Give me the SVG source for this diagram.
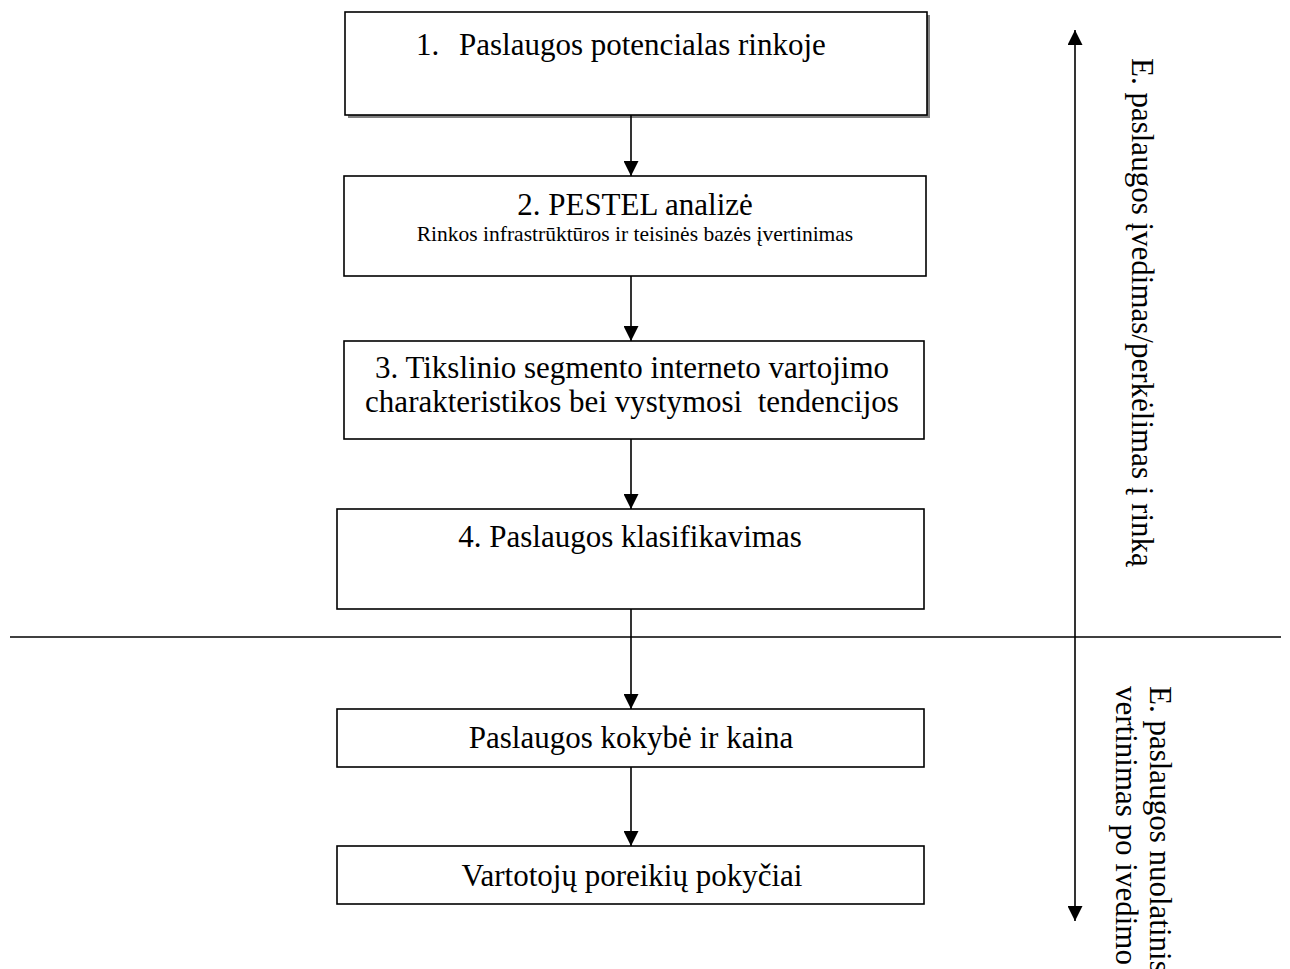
<svg xmlns="http://www.w3.org/2000/svg" width="1290" height="969" viewBox="0 0 1290 969">
<defs>
<style>
.box{fill:#fff;stroke:#000;stroke-width:1.6}
.t{font-family:"Liberation Serif","Times New Roman",serif;font-size:31px;fill:#000}
.s{font-family:"Liberation Serif","Times New Roman",serif;font-size:21.5px;fill:#000}
.r{font-family:"Liberation Serif","Times New Roman",serif;font-size:31px;fill:#000}
.c{stroke:#000;stroke-width:1.6;fill:none}
</style>
<marker id="ah" viewBox="0 0 10 10" refX="10" refY="5" markerWidth="15" markerHeight="15" markerUnits="userSpaceOnUse" orient="auto-start-reverse">
<path d="M0,0 L10,5 L0,10 Z" fill="#000"/>
</marker>
</defs>
<rect width="1290" height="969" fill="#fff"/>
<g id="node1">
<rect x="348" y="15" width="582" height="103" fill="#808080"/>
<rect class="box" x="345" y="12" width="582" height="103"/>
<text class="t" y="55"><tspan x="416">1.</tspan><tspan x="459">Paslaugos potencialas rinkoje</tspan></text>
</g>
<g id="node2">
<rect class="box" x="344" y="176" width="582" height="100"/>
<text class="t" x="635" y="215" text-anchor="middle">2. PESTEL analizė</text>
<text class="s" x="635" y="241" text-anchor="middle">Rinkos infrastrūktūros ir teisinės bazės įvertinimas</text>
</g>
<g id="node3">
<rect class="box" x="344" y="341" width="580" height="98"/>
<text class="t" x="632" y="378" text-anchor="middle">3. Tikslinio segmento interneto vartojimo</text>
<text class="t" x="632" y="412" text-anchor="middle" xml:space="preserve">charakteristikos bei vystymosi  tendencijos</text>
</g>
<g id="node4">
<rect class="box" x="337" y="509" width="587" height="100"/>
<text class="t" x="630" y="547" text-anchor="middle">4. Paslaugos klasifikavimas</text>
</g>
<g id="node5">
<rect class="box" x="337" y="709" width="587" height="58"/>
<text class="t" x="631" y="748" text-anchor="middle">Paslaugos kokybė ir kaina</text>
</g>
<g id="node6">
<rect class="box" x="337" y="846" width="587" height="58"/>
<text class="t" x="632" y="886" text-anchor="middle">Vartotojų poreikių pokyčiai</text>
</g>
<g id="connectors">
<line class="c" x1="631" y1="115" x2="631" y2="176" marker-end="url(#ah)"/>
<line class="c" x1="631" y1="276" x2="631" y2="341" marker-end="url(#ah)"/>
<line class="c" x1="631" y1="439" x2="631" y2="509" marker-end="url(#ah)"/>
<line class="c" x1="631" y1="609" x2="631" y2="709" marker-end="url(#ah)"/>
<line class="c" x1="631" y1="767" x2="631" y2="846" marker-end="url(#ah)"/>
<line class="c" x1="10" y1="637" x2="1281" y2="637"/>
<line class="c" x1="1075" y1="30" x2="1075" y2="921" marker-start="url(#ah)" marker-end="url(#ah)"/>
</g>
<g id="labels">
<text class="r" transform="translate(1132,58) rotate(90)">E. paslaugos įvedimas/perkėlimas į rinką</text>
<text class="r" transform="translate(1150,686) rotate(90)">E. paslaugos nuolatinis</text>
<text class="r" transform="translate(1116,686) rotate(90)">vertinimas po ivedimo</text>
</g>
</svg>
